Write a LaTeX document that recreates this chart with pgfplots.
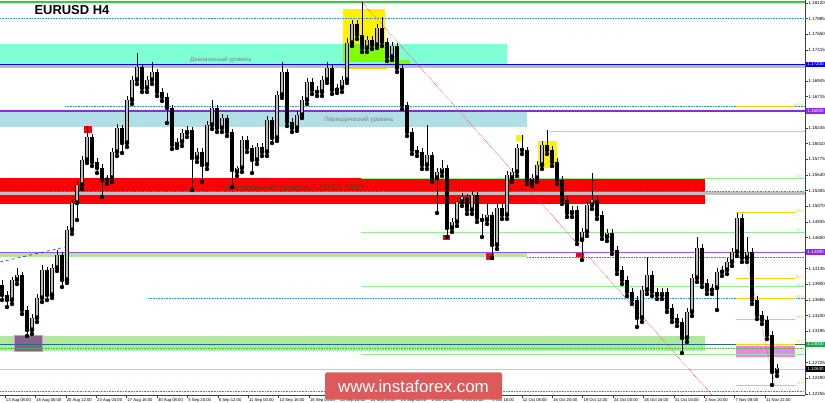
\documentclass[border=0pt]{standalone}
\usepackage{fontspec}
\setmainfont{Liberation Sans}
\usepackage{pgfplots}
\usepackage{pgfplotstable}
\pgfplotsset{compat=1.18}

\definecolor{aqua}{RGB}{127,255,212}
\definecolor{powder}{RGB}{176,224,230}
\definecolor{lime}{RGB}{128,255,0}
\definecolor{bviolet}{RGB}{138,43,226}
\definecolor{lgreen}{RGB}{144,238,144}
\definecolor{bandgreen}{RGB}{176,232,160}
\definecolor{topgreen}{RGB}{50,205,50}
\definecolor{fibgold}{RGB}{255,205,0}
\definecolor{dblue}{RGB}{30,144,255}
\definecolor{tealline}{RGB}{40,110,130}
\definecolor{pinkzone}{RGB}{238,130,238}
\definecolor{wmred}{RGB}{222,90,90}
\definecolor{upgray}{RGB}{185,185,185}
\definecolor{lvlgreen}{RGB}{30,100,0}

% x, open, high, low, close
\pgfplotstableread{
x o h l c
2 1.13890 1.13965 1.13665 1.13740
7 1.13740 1.13800 1.13560 1.13665
12 1.13665 1.14010 1.13605 1.13965
17 1.13965 1.14145 1.13905 1.14040
22 1.14040 1.14085 1.13455 1.13515
27 1.13515 1.13575 1.13125 1.13215
32 1.13215 1.13455 1.13155 1.13395
37 1.13395 1.13755 1.13335 1.13695
42 1.13695 1.14190 1.13635 1.14115
47 1.14115 1.14160 1.13665 1.13740
52 1.13740 1.14205 1.13695 1.14145
57 1.14145 1.14415 1.14100 1.14340
62 1.14340 1.14385 1.13860 1.13965
67 1.13965 1.14775 1.13920 1.14715
72 1.14715 1.15180 1.14655 1.15120
77 1.15120 1.15450 1.14865 1.15390
82 1.15390 1.15825 1.15330 1.15765
87 1.15765 1.16275 1.15720 1.16110
92 1.16110 1.16155 1.15675 1.15735
97 1.15735 1.15795 1.15570 1.15645
102 1.15645 1.15705 1.15210 1.15465
107 1.15465 1.15540 1.15405 1.15495
112 1.15495 1.15945 1.15435 1.15885
117 1.15885 1.16305 1.15825 1.16245
122 1.16245 1.16290 1.15870 1.16020
127 1.16020 1.16725 1.15960 1.16665
132 1.16665 1.17025 1.16605 1.16965
137 1.16965 1.17370 1.16905 1.17160
142 1.17160 1.17205 1.16785 1.16845
147 1.16845 1.17025 1.16785 1.16965
152 1.16965 1.17235 1.16905 1.17085
157 1.17085 1.17130 1.16725 1.16785
162 1.16785 1.16845 1.16650 1.16710
167 1.16710 1.16770 1.16320 1.16545
172 1.16545 1.16590 1.15930 1.15990
177 1.15990 1.16095 1.15945 1.16035
182 1.16035 1.16230 1.15975 1.16170
187 1.16170 1.16275 1.16110 1.16215
192 1.16215 1.16260 1.15315 1.15795
197 1.15795 1.15945 1.15735 1.15885
202 1.15885 1.15945 1.15435 1.15690
207 1.15690 1.16350 1.15630 1.16290
212 1.16290 1.16665 1.16230 1.16545
217 1.16545 1.16590 1.16185 1.16245
222 1.16245 1.16455 1.16185 1.16395
227 1.16395 1.16440 1.16125 1.16185
232 1.16185 1.16230 1.15360 1.15615
237 1.15585 1.15675 1.15525 1.15645
242 1.15645 1.16125 1.15585 1.16065
247 1.16065 1.16125 1.15885 1.15945
252 1.15945 1.15990 1.15570 1.15765
257 1.15765 1.16020 1.15705 1.15960
262 1.15960 1.16020 1.15825 1.15885
267 1.15885 1.16425 1.15825 1.16365
272 1.16365 1.16410 1.16020 1.16095
277 1.16095 1.16800 1.16050 1.16740
282 1.16740 1.17235 1.16695 1.17085
287 1.17085 1.17130 1.16275 1.16335
292 1.16335 1.16395 1.16185 1.16245
297 1.16245 1.16500 1.16200 1.16440
302 1.16440 1.16725 1.16395 1.16665
307 1.16665 1.16995 1.16605 1.16935
312 1.16935 1.16995 1.16755 1.16815
317 1.16815 1.16875 1.16725 1.16785
322 1.16785 1.17025 1.16725 1.16965
327 1.16965 1.17235 1.16920 1.17145
332 1.17145 1.17190 1.16755 1.16815
337 1.16815 1.16905 1.16770 1.16845
342 1.16845 1.17025 1.16785 1.16965
347 1.16965 1.17595 1.16920 1.17520
352 1.17520 1.17865 1.17475 1.17805
357 1.17805 1.17865 1.17580 1.17640
362 1.17640 1.18135 1.17385 1.17445
367 1.17445 1.17625 1.17385 1.17565
372 1.17565 1.17625 1.17430 1.17490
377 1.17490 1.17805 1.17445 1.17745
382 1.17745 1.17910 1.17475 1.17535
387 1.17535 1.17595 1.17250 1.17310
392 1.17310 1.17535 1.17265 1.17475
397 1.17475 1.17520 1.17085 1.17145
402 1.17145 1.17190 1.16530 1.16590
407 1.16590 1.16635 1.16125 1.16185
412 1.16185 1.16245 1.15855 1.15915
417 1.15915 1.15975 1.15825 1.15885
422 1.15885 1.15945 1.15630 1.15690
427 1.15690 1.16290 1.15630 1.15840
432 1.15840 1.15885 1.15435 1.15495
437 1.15495 1.15645 1.14970 1.15585
442 1.15585 1.15765 1.15525 1.15645
447 1.15645 1.15690 1.14610 1.14745
452 1.14745 1.14895 1.14685 1.14835
457 1.14835 1.15195 1.14775 1.15135
462 1.15135 1.15270 1.15075 1.15210
467 1.15210 1.15255 1.14955 1.15015
472 1.15015 1.15300 1.14955 1.15240
477 1.15240 1.15285 1.14835 1.14895
482 1.14895 1.14955 1.14610 1.14865
487 1.14865 1.15120 1.14805 1.14940
492 1.14940 1.14985 1.14295 1.14490
497 1.14490 1.15105 1.14430 1.15045
502 1.15045 1.15105 1.14880 1.14940
507 1.14940 1.15600 1.14880 1.15540
512 1.15495 1.15645 1.15435 1.15585
517 1.15585 1.16005 1.15525 1.15945
522 1.15945 1.16140 1.15855 1.15915
527 1.15915 1.15960 1.15405 1.15465
532 1.15435 1.15555 1.15375 1.15495
537 1.15495 1.15750 1.15435 1.15690
542 1.15690 1.16050 1.15630 1.15990
547 1.15990 1.16215 1.15855 1.15915
552 1.15915 1.15975 1.15675 1.15735
557 1.15735 1.15795 1.15405 1.15465
562 1.15465 1.15525 1.15105 1.15165
567 1.15165 1.15225 1.14910 1.14970
572 1.14970 1.15075 1.14910 1.15015
577 1.15015 1.15075 1.14505 1.14565
582 1.14565 1.14745 1.14265 1.14685
587 1.14685 1.15150 1.14625 1.15090
592 1.15090 1.15570 1.15030 1.15165
597 1.15165 1.15225 1.14880 1.14940
602 1.14940 1.15000 1.14580 1.14640
607 1.14610 1.14730 1.14550 1.14670
612 1.14670 1.14730 1.14355 1.14415
617 1.14415 1.14475 1.14055 1.14115
622 1.14115 1.14175 1.13905 1.13965
627 1.13965 1.14025 1.13725 1.13785
632 1.13785 1.13845 1.13605 1.13665
637 1.13665 1.13725 1.13260 1.13395
642 1.13395 1.13875 1.13335 1.13815
647 1.13815 1.14310 1.13755 1.14040
652 1.14040 1.14100 1.13725 1.13785
657 1.13785 1.13845 1.13680 1.13740
662 1.13740 1.13845 1.13680 1.13785
667 1.13785 1.13845 1.13485 1.13545
672 1.13545 1.13605 1.13335 1.13395
677 1.13395 1.13455 1.13275 1.13335
682 1.13335 1.13395 1.12870 1.13095
687 1.13095 1.13545 1.13035 1.13485
692 1.13485 1.14055 1.13425 1.13995
697 1.13995 1.14610 1.13935 1.14445
702 1.14445 1.14505 1.13860 1.13920
707 1.13920 1.13980 1.13755 1.13815
712 1.13815 1.13905 1.13755 1.13845
717 1.13845 1.14145 1.13515 1.14085
722 1.14085 1.14175 1.14025 1.14115
727 1.14115 1.14295 1.14055 1.14235
732 1.14235 1.14445 1.14175 1.14385
737 1.14385 1.14970 1.14325 1.14895
742 1.14895 1.14955 1.14235 1.14295
747 1.14295 1.14610 1.14235 1.14385
752 1.14385 1.14445 1.13605 1.13665
757 1.13665 1.13725 1.13380 1.13440
762 1.13440 1.13500 1.13305 1.13365
767 1.13365 1.13425 1.13080 1.13140
772 1.13140 1.13200 1.12390 1.12585
777 1.12585 1.12705 1.12525 1.12645
}\candles

\begin{document}
\begin{tikzpicture}
\begin{axis}[
  at={(0,0)}, anchor=south west,
  scale only axis, width=805bp, height=395bp,
  xmin=0, xmax=805, ymin=1.12240, ymax=1.18165,
  axis x line*=bottom, axis y line*=right,
  axis line style={black!75, line width=0.6pt, -},
  clip=false,
  tick align=outside, major tick length=2.5bp,
  tick style={black!75, line width=0.4pt},
  xtick={5,35.4,65.8,96.2,126.6,157,187.4,217.8,248.2,278.6,309,339.4,369.8,400.2,430.6,461,491.4,521.8,552.2,582.6,613,643.4,673.8,704.2,734.6,765},
  xticklabels={13 Aug 08:00,16 Aug 00:00,20 Aug 12:00,23 Aug 04:00,27 Aug 16:00,30 Aug 08:00,3 Sep 20:00,6 Sep 12:00,11 Sep 00:00,13 Sep 16:00,18 Sep 04:00,20 Sep 20:00,25 Sep 08:00,28 Sep 00:00,2 Oct 12:00,5 Oct 04:00,9 Oct 16:00,12 Oct 08:00,16 Oct 20:00,19 Oct 12:00,24 Oct 00:00,26 Oct 16:00,31 Oct 04:00,2 Nov 20:00,7 Nov 08:00,11 Nov 22:00},
  xticklabel style={anchor=north west, font=\fontsize{4.2}{5}\selectfont, inner sep=0.5pt, xshift=0.3bp, yshift=-0.5bp},
  ytick={1.18120,1.17885,1.17650,1.17415,1.16945,1.16715,1.16245,1.16010,1.15775,1.15540,1.15305,1.15070,1.14835,1.14600,1.14135,1.13900,1.13665,1.13430,1.13195,1.12725,1.12490,1.12255},
  yticklabels={1.18120,1.17885,1.17650,1.17415,1.16945,1.16715,1.16245,1.16010,1.15775,1.15540,1.15305,1.15070,1.14835,1.14600,1.14135,1.13900,1.13665,1.13430,1.13195,1.12725,1.12490,1.12255},
  yticklabel style={anchor=west, font=\fontsize{4.5}{5}\selectfont, inner sep=0.5pt, xshift=0.5bp},
]
% ---- zones
\addplot[fill=aqua, draw=none] coordinates {(0,1.17200) (507,1.17200) (507,1.17505) (0,1.17505)} -- cycle;
\addplot[fill=powder, draw=none] coordinates {(0,1.16260) (527,1.16260) (527,1.16500) (0,1.16500)} -- cycle;
\addplot[fill=red, draw=none] coordinates {(0,1.15100) (705,1.15100) (705,1.15500) (0,1.15500)} -- cycle;
\addplot[fill=bandgreen, draw=none] coordinates {(0,1.14310) (527,1.14310) (527,1.14385) (0,1.14385)} -- cycle;
\addplot[fill=bandgreen, draw=none] coordinates {(0,1.12900) (705,1.12900) (705,1.13125) (0,1.13125)} -- cycle;
\addplot[fill=yellow, draw=none] coordinates {(343,1.17505) (385,1.17505) (385,1.18030) (343,1.18030)} -- cycle;
\addplot[fill=lime, draw=none] coordinates {(343,1.17235) (385,1.17235) (385,1.17505) (343,1.17505)} -- cycle;
\addplot[fill=lime, draw=none] coordinates {(385,1.17205) (410,1.17205) (410,1.17265) (385,1.17265)} -- cycle;
\addplot[fill=yellow, draw=none] coordinates {(538,1.15645) (557,1.15645) (557,1.16050) (538,1.16050)} -- cycle;
\addplot[fill=yellow, draw=none] coordinates {(516,1.16050) (524,1.16050) (524,1.16140) (516,1.16140)} -- cycle;
\addplot[fill=pinkzone, draw=none] coordinates {(736,1.12810) (795,1.12810) (795,1.12975) (736,1.12975)} -- cycle;
\addplot[fill=red, draw=none] coordinates {(84,1.16170) (92,1.16170) (92,1.16275) (84,1.16275)} -- cycle;
\addplot[fill=red, draw=none] coordinates {(443,1.14565) (450,1.14565) (450,1.14640) (443,1.14640)} -- cycle;
\addplot[fill=red, draw=bviolet, line width=0.5bp] coordinates {(486,1.14280) (493,1.14280) (493,1.14370) (486,1.14370)} -- cycle;
\addplot[fill=red, draw=none] coordinates {(576,1.14310) (584,1.14310) (584,1.14385) (576,1.14385)} -- cycle;
\addplot[fill=black!40!pinkzone!60!gray, draw=pinkzone, line width=0.6bp] coordinates {(14,1.12900) (42,1.12900) (42,1.13140) (14,1.13140)} -- cycle;
% ---- horizontal levels
\addplot[topgreen, line width=1.6bp] coordinates {(0,1.18135) (805,1.18135)};
\addplot[dblue, densely dotted, line width=0.6bp] coordinates {(0,1.17895) (805,1.17895)};
\addplot[black!25, line width=3bp] coordinates {(0,1.17160) (805,1.17160)};
\addplot[blue, line width=1.6bp] coordinates {(0,1.17200) (805,1.17200)};
\addplot[dblue, densely dotted, line width=0.6bp] coordinates {(65,1.16575) (805,1.16575)};
\addplot[bviolet, line width=1.4bp] coordinates {(0,1.16500) (805,1.16500)};
\addplot[lgreen, line width=0.7bp] coordinates {(550,1.16200) (805,1.16200)};
\addplot[black!25, line width=2.5bp] coordinates {(0,1.15265) (805,1.15265)};
\addplot[dblue, densely dotted, line width=0.6bp] coordinates {(0,1.15290) (805,1.15290)};
\addplot[lgreen, line width=0.7bp] coordinates {(361,1.15495) (805,1.15495)};
\addplot[lgreen, line width=0.7bp] coordinates {(361,1.14680) (805,1.14680)};
\addplot[lgreen, line width=0.7bp] coordinates {(361,1.13864) (805,1.13864)};
\addplot[lgreen, line width=0.7bp] coordinates {(361,1.12855) (805,1.12855)};
\addplot[bviolet!80, line width=0.9bp] coordinates {(0,1.14385) (805,1.14385)};
\addplot[tealline!70!green, densely dotted, line width=0.6bp] coordinates {(527,1.14310) (805,1.14310)};
\addplot[dblue, densely dotted, line width=0.6bp] coordinates {(148,1.13695) (805,1.13695)};
\addplot[tealline, line width=1.3bp] coordinates {(0,1.13000) (805,1.13000)};
\addplot[topgreen, densely dotted, line width=0.6bp] coordinates {(0,1.12940) (805,1.12940)};
\addplot[black!22, line width=0.7bp] coordinates {(0,1.12630) (805,1.12630)};
\addplot[dblue, densely dotted, line width=0.6bp] coordinates {(0,1.12300) (805,1.12300)};
% fibonacci (gold)
\addplot[fibgold, line width=1bp] coordinates {(736,1.16564) (795,1.16564)};
\addplot[fibgold, line width=1bp] coordinates {(736,1.14970) (795,1.14970)};
\addplot[fibgold, line width=1bp] coordinates {(736,1.13984) (795,1.13984)};
\addplot[fibgold, line width=1bp] coordinates {(736,1.13680) (795,1.13680)};
\addplot[fibgold, line width=1bp] coordinates {(736,1.13376) (795,1.13376)};
\addplot[fibgold, line width=1bp] coordinates {(736,1.12999) (795,1.12999)};
\addplot[fibgold, line width=1bp] coordinates {(736,1.12390) (795,1.12390)};
% trend lines
\addplot[blue, dashed, line width=0.5bp] coordinates {(0,1.14235) (65,1.14460)};
\addplot[red!80, densely dotted, line width=0.6bp] coordinates {(362,1.18135) (712,1.12240)};
\addplot[red!80, densely dotted, line width=0.6bp] coordinates {(737,1.14895) (775,1.12390)};
\addplot[fibgold, line width=0.8bp] coordinates {(343,1.17145) (387,1.17145)};
% ---- candles: wicks
\addplot[only marks, mark=none, error bars/.cd, y dir=plus, y explicit, error mark=none,
  error bar style={draw=black, line width=0.7bp}]
  table[x=x, y=l, y error plus expr=\thisrow{h}-\thisrow{l}] {\candles};
% bodies, rising: black frame then grey fill
\addplot[only marks, mark=none, restrict expr to domain={\thisrow{c}-\thisrow{o}}{0:1},
  error bars/.cd, y dir=plus, y explicit, error mark=none,
  error bar style={draw=black, line width=3.4bp}]
  table[x=x, y=o, y error plus expr=\thisrow{c}-\thisrow{o}] {\candles};
\addplot[only marks, mark=none, restrict expr to domain={\thisrow{c}-\thisrow{o}}{0:1},
  error bars/.cd, y dir=plus, y explicit, error mark=none,
  error bar style={draw=upgray, line width=1.8bp}]
  table[x=x, y expr=\thisrow{o}+0.00006, y error plus expr=\thisrow{c}-\thisrow{o}-0.00012] {\candles};
% bodies, falling
\addplot[only marks, mark=none, restrict expr to domain={\thisrow{c}-\thisrow{o}}{-1:0},
  error bars/.cd, y dir=plus, y explicit, error mark=none,
  error bar style={draw=black, line width=3.4bp}]
  table[x=x, y=c, y error plus expr=\thisrow{o}-\thisrow{c}] {\candles};
% ---- texts
\node[anchor=west, font=\bfseries\fontsize{13}{13}\selectfont] at (axis cs:31,1.18015) {EURUSD H4};
\node[text=black!50, font=\fontsize{6}{6}\selectfont] at (axis cs:221,1.17265) {Диапазонный уровень};
\node[text=black!50, font=\fontsize{6.2}{6}\selectfont] at (axis cs:359,1.16365) {Периодический уровень};
\node[text=lvlgreen, font=\fontsize{8}{8}\selectfont] at (axis cs:294,1.15345) {Диапазонный\ \ уровень 1.1510/1.1550};
\coordinate (wm) at (axis cs:413.5,1.12375);
\coordinate (hA) at (axis cs:805.5,1.17200);
\coordinate (hB) at (axis cs:805.5,1.16500);
\coordinate (hC) at (axis cs:805.5,1.14385);
\coordinate (hD) at (axis cs:805.5,1.13000);
\coordinate (hE) at (axis cs:805.5,1.12630);
\coordinate (g1) at (axis cs:804,1.16564);
\coordinate (g2) at (axis cs:804,1.14970);
\coordinate (g3) at (axis cs:804,1.13984);
\coordinate (g4) at (axis cs:804,1.13680);
\coordinate (g5) at (axis cs:804,1.13376);
\coordinate (g6) at (axis cs:804,1.12999);
\coordinate (g7) at (axis cs:804,1.12390);
\coordinate (e1) at (axis cs:804,1.15495);
\coordinate (e2) at (axis cs:804,1.14680);
\coordinate (e3) at (axis cs:804,1.13864);
\coordinate (e4) at (axis cs:804,1.12855);
\end{axis}
\tikzset{fl/.style={anchor=south east, font=\fontsize{4}{4}\selectfont, inner sep=0.3pt}}
\node[fl, text=fibgold] at (g1) {161.8};
\node[fl, text=fibgold] at (g2) {100.0};
\node[fl, text=fibgold] at (g3) {61.8};
\node[fl, text=fibgold] at (g4) {50.0};
\node[fl, text=fibgold] at (g5) {38.2};
\node[fl, text=fibgold] at (g6) {23.6};
\node[fl, text=fibgold] at (g7) {0.0};
\node[fl, text=lgreen] at (e1) {61.8};
\node[fl, text=lgreen] at (e2) {50.0};
\node[fl, text=lgreen] at (e3) {38.2};
\node[fl, text=lgreen] at (e4) {23.6};
\node[fill=wmred, rounded corners=2bp, minimum width=177bp, minimum height=27bp, inner sep=0pt,
  text=white, font=\fontsize{17}{17}\selectfont] at (wm) {www.instaforex.com};
\tikzset{hl/.style={anchor=west, minimum width=19.5bp, minimum height=5.5bp, inner sep=0.3pt, text=white, font=\fontsize{4.5}{5}\selectfont}}
\node[hl, fill=blue] at (hA) {1.17200};
\node[hl, fill=bviolet] at (hB) {1.16500};
\node[hl, fill=bviolet] at (hC) {1.14380};
\node[hl, fill=tealline!60!green] at (hD) {1.13000};
\node[hl, fill=black] at (hE) {1.12630};
\pgfresetboundingbox
\useasboundingbox (0,-8bp) rectangle (825bp,395bp);
\end{tikzpicture}
\end{document}
